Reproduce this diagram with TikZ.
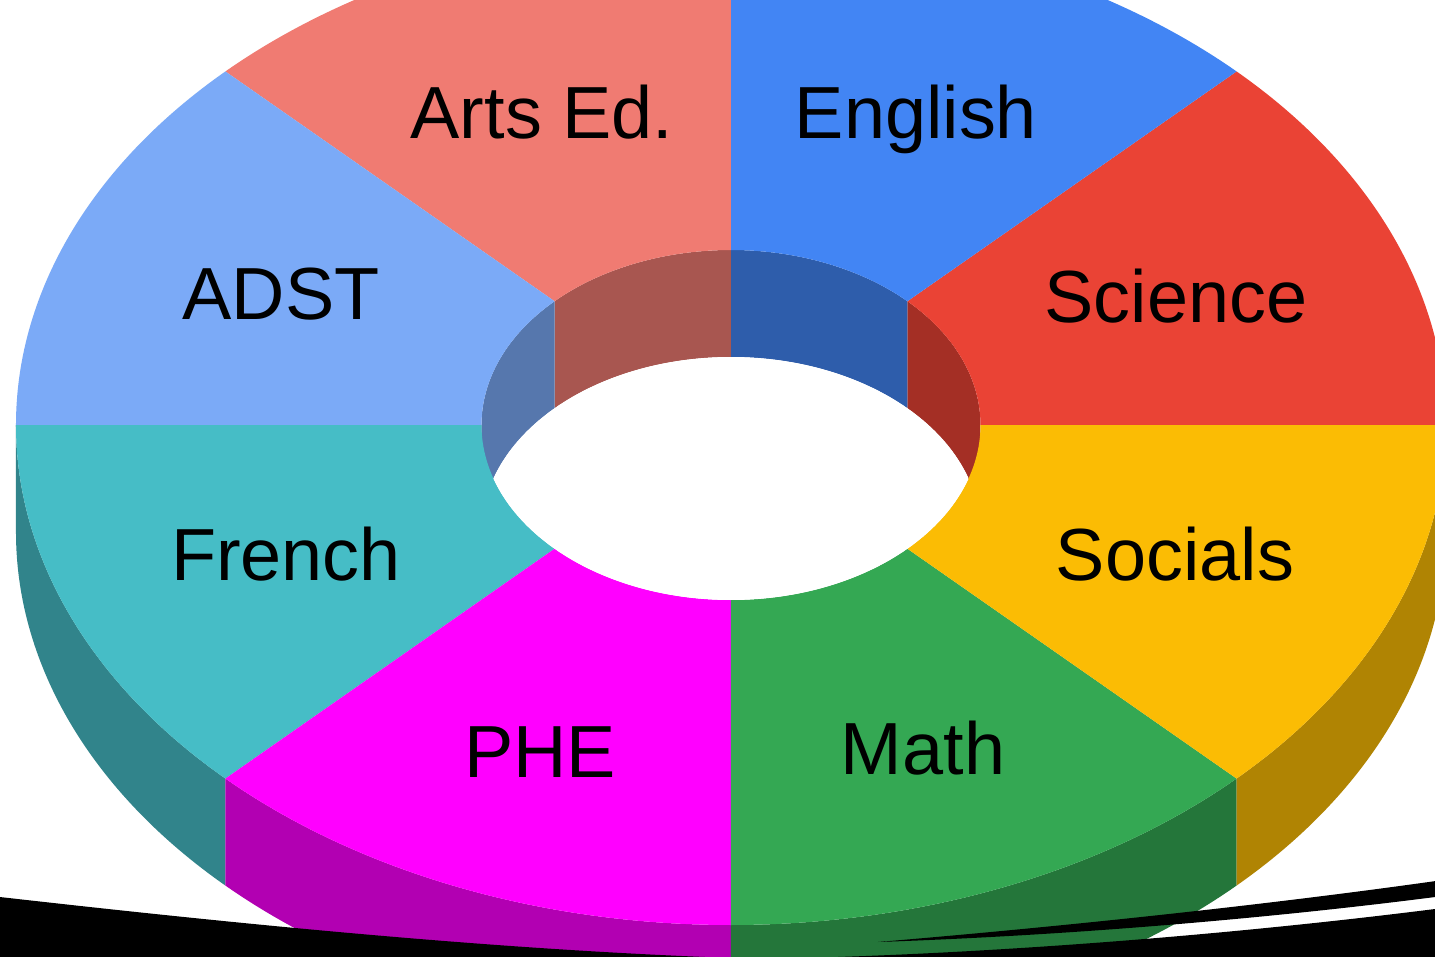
\documentclass[tikz,border=0pt]{standalone}
\usepackage{fontspec}
\setmainfont{Liberation Sans}
\usetikzlibrary{calc}

\definecolor{english}{HTML}{4285F4}
\definecolor{science}{HTML}{EA4335}
\definecolor{socials}{HTML}{FBBC04}
\definecolor{math}{HTML}{34A853}
\definecolor{phe}{HTML}{FF00FF}
\definecolor{french}{HTML}{46BDC6}
\definecolor{adst}{HTML}{7BAAF7}
\definecolor{arts}{HTML}{F07B72}

\begin{document}
\begin{tikzpicture}[x=0.01cm,y=0.01cm]
        \tikzset{lbl/.style={font=\fontsize{21}{25}\selectfont, anchor=base, inner sep=0pt},
        outer/.style={x radius=715, y radius=500},
        inner/.style={x radius=249.5, y radius=175},
        swoosh/.style={fill=black},
        }
        \clip (-731,-532) rectangle (704,425);
        \fill[white] (-731,-532) rectangle (704,425);

%% front side of the ring
        \foreach \a/\b/\c in {180/225/french, 225/270/phe, 270/315/math, 315/360/socials}
            \fill[\c!70!black] (\a:715 and 500) arc[outer, start angle=\a, end angle=\b] -- ++(0,-107) arc[outer, start angle=\b, end angle=\a] -- cycle;
%% back wall of the hole
        \foreach \a/\b/\c in {0/45/science, 45/90/english, 90/135/arts, 135/180/adst}
            \fill[\c!70!black] (\a:249.5 and 175) arc[inner, start angle=\a, end angle=\b] -- ++(0,-107) arc[inner, start angle=\b, end angle=\a] -- cycle;
%% top face
        \foreach \a/\b/\c in {0/45/science, 45/90/english, 90/135/arts, 135/180/adst, 180/225/french, 225/270/phe, 270/315/math, 315/360/socials}
            \fill[\c] (\a:715 and 500) arc[outer, start angle=\a, end angle=\b] -- (\b:249.5 and 175) arc[inner, start angle=\b, end angle=\a] -- cycle;
        \begin{scope}
            \clip (0,0) ellipse [inner];
            \fill[white] (0,-107) ellipse [inner];
        \end{scope}

%% swooshes
        \fill[swoosh] (-740,-471) .. controls (-450,-504) and (-200,-527) .. (30,-534) .. controls (250,-530) and (500,-510) .. (712,-483) -- (712,-545) -- (-740,-545) -- cycle;
        \fill[swoosh] (147,-517) .. controls (350,-500) and (550,-478) .. (712,-455) -- (712,-471) .. controls (550,-492) and (350,-510) .. (147,-517) -- cycle;

%% labels
        \node[lbl] (arts_lbl) at (-189,287) {Arts Ed.};
        \node[lbl] (english_lbl) at (185,287) {English};
        \node[lbl] (adst_lbl) at (-450,105) {ADST};
        \node[lbl] (science_lbl) at (445,103) {Science};
        \node[lbl] (french_lbl) at (-445,-156) {French};
        \node[lbl] (socials_lbl) at (444,-156) {Socials};
        \node[lbl] (phe_lbl) at (-191,-352) {PHE};
        \node[lbl] (math_lbl) at (192,-349) {Math};
\end{tikzpicture}
\end{document}
